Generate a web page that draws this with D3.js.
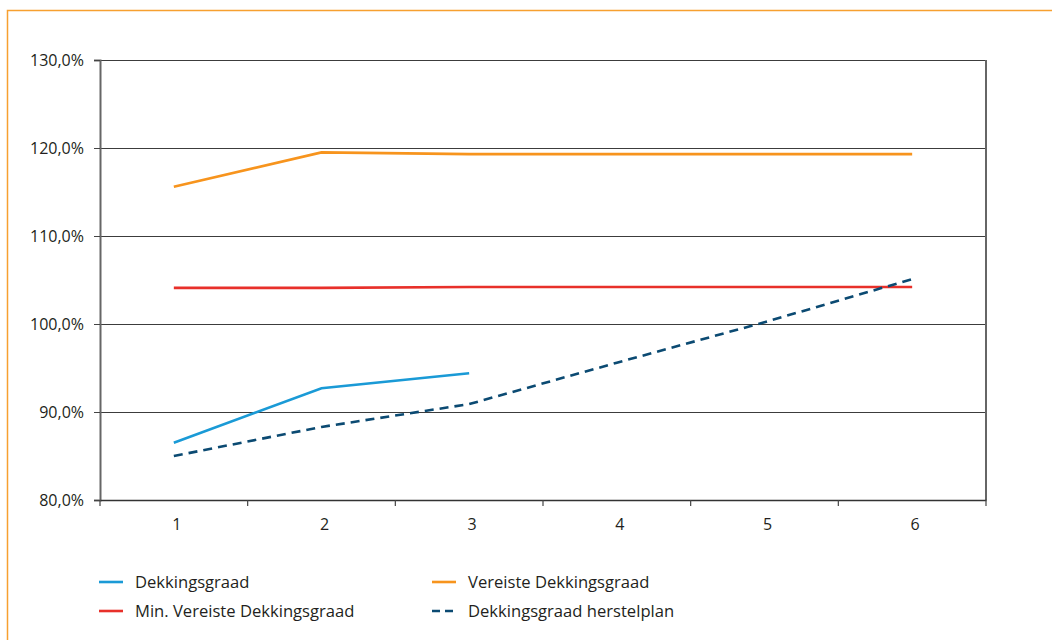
<!DOCTYPE html>
<html><head><meta charset="utf-8">
<script src="https://cdn.jsdelivr.net/npm/d3@7"></script>
<style>
html,body{margin:0;padding:0;background:#fff;}
svg{display:block;}
text{font-family:"Open Sans",Lato,sans-serif;fill:#231f20;}
</style></head>
<body><svg id="chart" width="1052" height="640"></svg>
<script>
const categories = ["1","2","3","4","5","6"];
const yTicks = [80,90,100,110,120,130];
const dekkingsgraad = [86.5, 92.7, 94.4];
const vereiste = [115.6, 119.5, 119.3, 119.3, 119.3, 119.3];
const minVereiste = [104.1, 104.1, 104.2, 104.2, 104.2, 104.2];
const herstelplan = [85.0, 88.3, 90.9, 95.6, 100.2, 105.1];
const seriesNames = ["Dekkingsgraad","Vereiste Dekkingsgraad","Min. Vereiste Dekkingsgraad","Dekkingsgraad herstelplan"];

const svg = d3.select("#chart");
const m = {left:100, top:60, right:986, bottom:500};
const FONT = "'Open Sans', Lato, sans-serif";

svg.append("rect").attr("x",7.5).attr("y",10.5).attr("width",1100).attr("height",700)
  .attr("fill","none").attr("stroke","#f7a030").attr("stroke-width",1.5);

const x = d3.scaleBand().domain(categories).range([m.left,m.right]);
const y = d3.scaleLinear().domain([80,130]).range([m.bottom,m.top]);
const cx = (i)=> x(categories[i]) + x.bandwidth()/2;

// gridlines
svg.append("g").selectAll("line").data(yTicks.slice(1)).join("line")
  .attr("x1",m.left).attr("x2",m.right)
  .attr("y1",d=>Math.round(y(d))+0.5).attr("y2",d=>Math.round(y(d))+0.5)
  .attr("stroke","#3c3c3c").attr("stroke-width",1.2);

// right border
svg.append("line").attr("x1",m.right).attr("x2",m.right).attr("y1",m.top).attr("y2",m.bottom)
  .attr("stroke","#666").attr("stroke-width",2);

// y axis
const yAxis = d3.axisLeft(y).tickValues(yTicks).tickSize(6).tickPadding(10)
  .tickFormat(d=>d3.format(".1f")(d).replace(".",",")+"%");
const gy = svg.append("g").attr("transform",`translate(${m.left},0)`).call(yAxis);
gy.select(".domain").attr("stroke","#666").attr("stroke-width",2);
gy.selectAll(".tick line").attr("stroke","#444");
gy.selectAll("text").attr("font-size",16).attr("fill","#231f20").attr("font-family",FONT);

// x axis
const xAxis = d3.axisBottom(x).tickSize(0).tickPadding(19);
const gx = svg.append("g").attr("transform",`translate(0,${m.bottom})`).call(xAxis);
gx.select(".domain").attr("stroke","#333").attr("stroke-width",1.5);
gx.selectAll("text").attr("font-size",16).attr("fill","#231f20").attr("font-family",FONT).attr("dx",3);
// band boundary ticks
const bounds = categories.map(c=>x(c)).concat([m.right]);
svg.append("g").selectAll("line").data(bounds).join("line")
  .attr("x1",d=>d).attr("x2",d=>d).attr("y1",m.bottom).attr("y2",m.bottom+6)
  .attr("stroke","#444").attr("stroke-width",1.2);

const line = d3.line().x((d,i)=>cx(i)).y(d=>y(d));
const styles = [
  {data:vereiste, color:"#f7941d", dash:null},
  {data:minVereiste, color:"#e8302a", dash:null},
  {data:herstelplan, color:"#0b4a72", dash:"9,6"},
  {data:dekkingsgraad, color:"#1a9ad6", dash:null}
];
styles.forEach(s=>{
  svg.append("path").datum(s.data).attr("d",line).attr("fill","none")
    .attr("stroke",s.color).attr("stroke-width",2.6)
    .attr("stroke-dasharray",s.dash);
});

// legend
const legend = [
  {name:seriesNames[0], color:"#1a9ad6", dash:null, lx:99, ly:582},
  {name:seriesNames[1], color:"#f7941d", dash:null, lx:432, ly:582},
  {name:seriesNames[2], color:"#e8302a", dash:null, lx:99, ly:611},
  {name:seriesNames[3], color:"#0b4a72", dash:"8,5", lx:432, ly:611}
];
const lg = svg.append("g").selectAll("g").data(legend).join("g");
lg.append("line").attr("x1",d=>d.lx).attr("x2",d=>d.lx+24).attr("y1",d=>d.ly).attr("y2",d=>d.ly)
  .attr("stroke",d=>d.color).attr("stroke-width",2.6).attr("stroke-dasharray",d=>d.dash);
lg.append("text").attr("x",d=>d.lx+36).attr("y",d=>d.ly+6).attr("font-size",16.6)
  .attr("font-family",FONT).text(d=>d.name);
</script></body></html>
